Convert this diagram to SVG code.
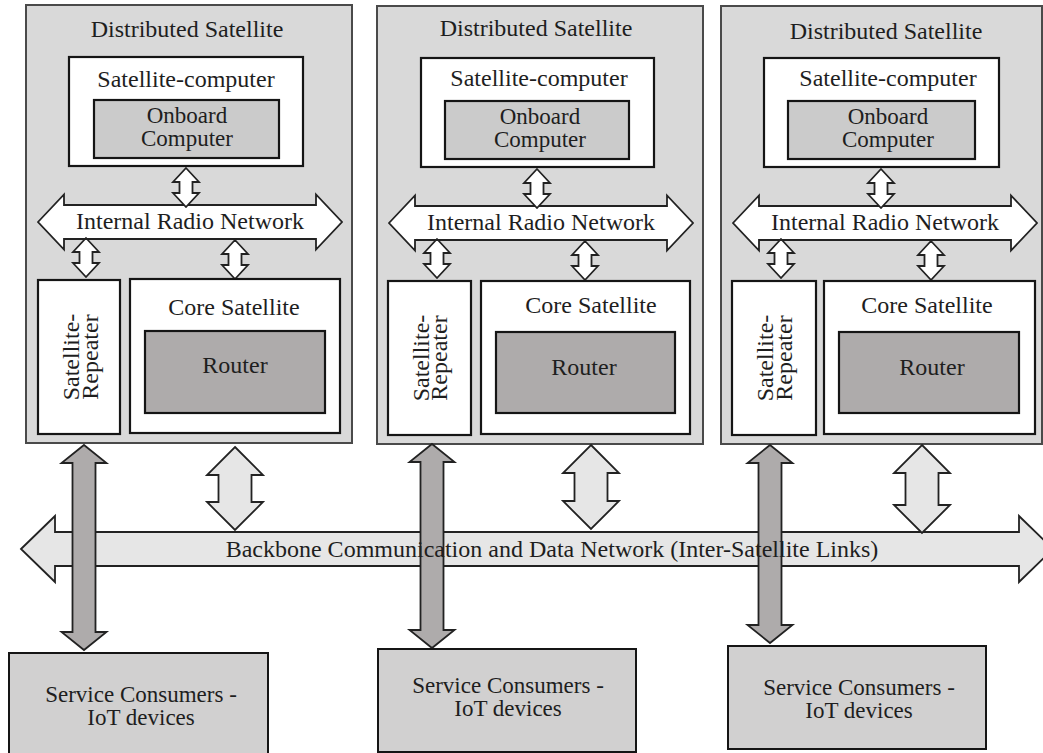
<svg xmlns="http://www.w3.org/2000/svg" xmlns:xlink="http://www.w3.org/1999/xlink" width="1043" height="753" viewBox="0 0 1043 753">
  <style>
    text { font-family: "Liberation Serif", "Times New Roman", serif; font-size: 24px; fill: #1e1e1e; text-anchor: middle; }
    text.two { font-size: 23px; }
    .panel { fill: #d9d9d9; stroke: #4a4a4a; stroke-width: 2; }
    .box { fill: #ffffff; stroke: #151515; stroke-width: 2.2; }
    .onboard { fill: #cbcbcb; stroke: #151515; stroke-width: 2.2; }
    .router { fill: #aeabab; stroke: #151515; stroke-width: 2.2; }
    .consumer { fill: #d1d0d0; stroke: #151515; stroke-width: 2; }
    .arrow-white { fill: #ffffff; stroke: #222222; stroke-width: 1.8; stroke-linejoin: miter; }
    .arrow-light { fill: #e6e6e6; stroke: #222222; stroke-width: 1.8; stroke-linejoin: miter; }
    .arrow-dark { fill: #aeabab; stroke: #222222; stroke-width: 1.8; stroke-linejoin: miter; }
  </style>
  <defs>
    <!-- small white double arrow, 39px tall, origin at top tip -->
    <path id="vsmall" d="M0,0 L13,14 L6.5,14 L6.5,25 L13,25 L0,39 L-13,25 L-6.5,25 L-6.5,14 L-13,14 Z"/>
    <!-- internal radio network double arrow -->
    <path id="irn" d="M38,222 L64,194.5 L64,205 L316,205 L316,194.5 L342,222 L316,249.5 L316,239 L64,239 L64,249.5 Z"/>
  </defs>

  <rect width="1043" height="753" fill="#ffffff"/>

  <!-- Panel 1 -->
  <g id="satellite-1">
    <rect class="panel" x="26" y="5" width="326" height="438"/>
    <text x="187" y="37">Distributed Satellite</text>
    <g id="sat-computer-1">
      <rect class="box" x="69" y="57" width="234" height="109"/>
      <text x="186" y="87">Satellite-computer</text>
    </g>
    <g id="onboard-1">
      <rect class="onboard" x="94" y="100" width="185" height="58"/>
      <text class="two" x="187" y="123">Onboard</text>
      <text class="two" x="187" y="146">Computer</text>
    </g>
    <g id="radio-net-1">
      <use href="#irn" xlink:href="#irn" class="arrow-white"/>
      <text x="190" y="229">Internal Radio Network</text>
    </g>
    <use href="#vsmall" xlink:href="#vsmall" class="arrow-white" x="186" y="168"/>
    <use href="#vsmall" xlink:href="#vsmall" class="arrow-white" x="86" y="238"/>
    <use href="#vsmall" xlink:href="#vsmall" class="arrow-white" x="235" y="240"/>
    <g id="repeater-1">
      <rect class="box" x="38" y="280" width="82" height="154"/>
      <text transform="translate(79,357) rotate(-90)">Satellite-</text>
      <text transform="translate(98,357) rotate(-90)">Repeater</text>
    </g>
    <g id="core-1">
      <rect class="box" x="130" y="279" width="210" height="154"/>
      <text x="234" y="315">Core Satellite</text>
    </g>
    <g id="router-1">
      <rect class="router" x="145" y="331" width="180" height="82"/>
      <text x="235" y="373">Router</text>
    </g>
  </g>

  <!-- Panel 2 -->
  <g id="satellite-2" transform="translate(351,1)">
    <rect class="panel" x="26" y="5" width="326" height="438"/>
    <text x="185" y="35">Distributed Satellite</text>
    <g id="sat-computer-2">
      <rect class="box" x="70" y="57" width="233" height="109"/>
      <text x="188" y="85">Satellite-computer</text>
    </g>
    <g id="onboard-2">
      <rect class="onboard" x="94" y="100" width="184" height="58"/>
      <text class="two" x="189" y="123">Onboard</text>
      <text class="two" x="189" y="146">Computer</text>
    </g>
    <g id="radio-net-2">
      <use href="#irn" xlink:href="#irn" class="arrow-white"/>
      <text x="190" y="229">Internal Radio Network</text>
    </g>
    <use href="#vsmall" xlink:href="#vsmall" class="arrow-white" x="186" y="168"/>
    <use href="#vsmall" xlink:href="#vsmall" class="arrow-white" x="86" y="238"/>
    <use href="#vsmall" xlink:href="#vsmall" class="arrow-white" x="234" y="240"/>
    <g id="repeater-2">
      <rect class="box" x="37" y="280" width="83" height="154"/>
      <text transform="translate(78,357) rotate(-90)">Satellite-</text>
      <text transform="translate(96,357) rotate(-90)">Repeater</text>
    </g>
    <g id="core-2">
      <rect class="box" x="130" y="280" width="209" height="153"/>
      <text x="240" y="312">Core Satellite</text>
    </g>
    <g id="router-2">
      <rect class="router" x="145" y="331" width="179" height="81"/>
      <text x="233" y="374">Router</text>
    </g>
  </g>

  <!-- Panel 3 -->
  <g id="satellite-3" transform="translate(695,1)">
    <rect class="panel" x="26" y="5" width="321" height="438"/>
    <text x="191" y="38">Distributed Satellite</text>
    <g id="sat-computer-3">
      <rect class="box" x="69" y="57" width="235" height="109"/>
      <text x="193" y="85">Satellite-computer</text>
    </g>
    <g id="onboard-3">
      <rect class="onboard" x="93" y="100" width="187" height="58"/>
      <text class="two" x="193" y="123">Onboard</text>
      <text class="two" x="193" y="146">Computer</text>
    </g>
    <g id="radio-net-3">
      <use href="#irn" xlink:href="#irn" class="arrow-white"/>
      <text x="190" y="229">Internal Radio Network</text>
    </g>
    <use href="#vsmall" xlink:href="#vsmall" class="arrow-white" x="186" y="168"/>
    <use href="#vsmall" xlink:href="#vsmall" class="arrow-white" x="86" y="238"/>
    <use href="#vsmall" xlink:href="#vsmall" class="arrow-white" x="236" y="240"/>
    <g id="repeater-3">
      <rect class="box" x="37" y="280" width="84" height="154"/>
      <text transform="translate(78,357) rotate(-90)">Satellite-</text>
      <text transform="translate(97,357) rotate(-90)">Repeater</text>
    </g>
    <g id="core-3">
      <rect class="box" x="129" y="280" width="211" height="153"/>
      <text x="232" y="312">Core Satellite</text>
    </g>
    <g id="router-3">
      <rect class="router" x="144" y="331" width="180" height="81"/>
      <text x="237" y="374">Router</text>
    </g>
  </g>

  <!-- Backbone and links to the ground -->
  <g id="connectors">
    <path id="backbone" class="arrow-light" d="M21,549 L55,516 L55,532 L1019,532 L1019,516 L1053,549 L1019,582 L1019,566 L55,566 L55,582 Z"/>
    <!-- core satellite to backbone -->
    <path class="arrow-light" d="M235,447 L263,475 L251.5,475 L251.5,502 L263,502 L235,530 L207,502 L218.5,502 L218.5,475 L207,475 Z"/>
    <path class="arrow-light" d="M591,445 L619,473 L607.5,473 L607.5,501 L619,501 L591,529 L563,501 L574.5,501 L574.5,473 L563,473 Z"/>
    <path class="arrow-light" d="M922,445 L950,473 L938.5,473 L938.5,505 L950,505 L922,533 L894,505 L905.5,505 L905.5,473 L894,473 Z"/>
    <!-- repeater to service consumers -->
    <path class="arrow-dark" d="M84,445 L106.5,463 L95.5,463 L95.5,632 L106.5,632 L84,650 L61.5,632 L72.5,632 L72.5,463 L61.5,463 Z"/>
    <path class="arrow-dark" d="M432,444 L454.5,462 L443.5,462 L443.5,630 L454.5,630 L432,648 L409.5,630 L420.5,630 L420.5,462 L409.5,462 Z"/>
    <path class="arrow-dark" d="M770,445 L792.5,463 L781.5,463 L781.5,625 L792.5,625 L770,643 L747.5,625 L758.5,625 L758.5,463 L747.5,463 Z"/>
    <text x="552" y="557">Backbone Communication and Data Network (Inter-Satellite Links)</text>
  </g>

  <!-- Service consumers -->
  <g id="consumers-1">
    <rect class="consumer" x="9" y="653" width="259" height="104"/>
    <text class="two" x="141" y="702">Service Consumers -</text>
    <text class="two" x="141" y="725">IoT devices</text>
  </g>
  <g id="consumers-2">
    <rect class="consumer" x="378" y="649" width="258" height="103"/>
    <text class="two" x="508" y="693">Service Consumers -</text>
    <text class="two" x="508" y="716">IoT devices</text>
  </g>
  <g id="consumers-3">
    <rect class="consumer" x="728" y="646" width="258" height="103"/>
    <text class="two" x="859" y="695">Service Consumers -</text>
    <text class="two" x="859" y="718">IoT devices</text>
  </g>
</svg>
